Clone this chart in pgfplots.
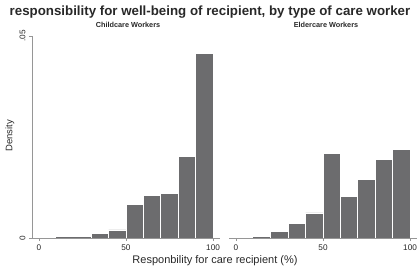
\documentclass[border=0pt]{standalone}
\usepackage{fontspec}
\setmainfont{Liberation Sans}
\usepackage{pgfplots}
\pgfplotsset{compat=1.18}
\definecolor{barfill}{RGB}{108,108,110}
\definecolor{axgray}{RGB}{150,150,150}
\definecolor{txt}{RGB}{40,40,40}

\pgfplotsset{
  carepanel/.style={
    scale only axis, width=188pt, height=202pt, anchor=south west,
    xmin=-4, xmax=104, ymin=0, ymax=0.05,
    axis on top,
    axis x line*=bottom,
    axis line style={axgray, line width=0.5pt},
    tick align=outside, major tick length=3pt,
    tick style={axgray, line width=0.5pt},
    xtick={0,50,100}, xticklabels={0,50,100},
    scaled y ticks=false,
    ticklabel style={font=\fontsize{8.2}{9}\selectfont, text=txt},
    /pgf/number format/assume math mode=true,
  },
  bins/.style={ybar interval, fill=barfill, draw=white, line width=0.8pt},
  thinbins/.style={ybar interval, fill=barfill, draw=barfill, line width=0.4pt},
}

\begin{document}
\begin{tikzpicture}
\useasboundingbox (0pt,0pt) rectangle (420pt,266pt);

% Childcare workers
\begin{axis}[carepanel, at={(32pt,28pt)},
  axis y line*=left,
  ytick={0,0.05}, yticklabels={0,.05},
  yticklabel style={rotate=90, anchor=south}]
\addplot[thinbins] coordinates {(10,0.00012) (20,0.00012) (30,0)};
\addplot[bins] coordinates {(30,0.00107) (40,0.0020) (50,0.0082) (60,0.0106)
  (70,0.0110) (80,0.0201) (90,0.0456) (100,0)};
\end{axis}

% Eldercare workers
\begin{axis}[carepanel, at={(229pt,28pt)},
  axis y line=none]
\addplot[thinbins] coordinates {(10,0.00012) (20,0)};
\addplot[bins] coordinates {(20,0.00157) (30,0.00355) (40,0.0062) (50,0.0210)
  (60,0.0102) (70,0.0144) (80,0.0195) (90,0.0220) (100,0)};
\end{axis}

\node[font=\bfseries\fontsize{13.3}{15}\selectfont, text=txt] at (210pt,254pt)
  {responsibility for well-being of recipient, by type of care worker};
\node[font=\bfseries\fontsize{7.3}{8}\selectfont, text=txt] at (128pt,241pt) {Childcare Workers};
\node[font=\bfseries\fontsize{7.3}{8}\selectfont, text=txt] at (326pt,241pt) {Eldercare Workers};
\node[font=\fontsize{9.5}{10}\selectfont, text=txt, rotate=90] at (10pt,130pt) {Density};
\node[font=\fontsize{11}{12}\selectfont, text=txt] at (215pt,5pt) {Responbility for care recipient (\%)};
\end{tikzpicture}
\end{document}
